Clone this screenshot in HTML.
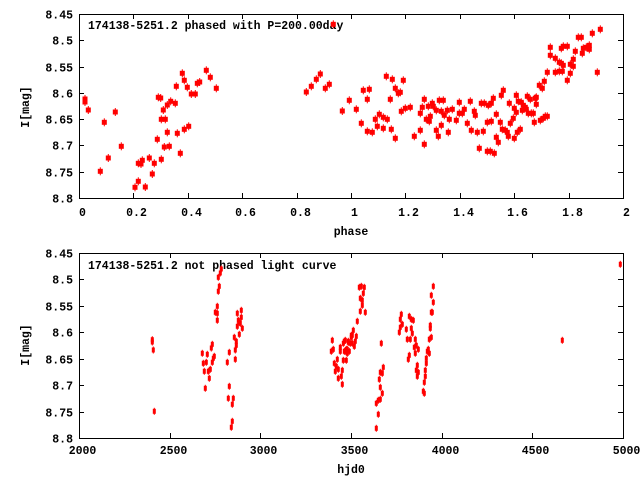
<!DOCTYPE html>
<html><head><meta charset="utf-8"><style>
body{margin:0;background:#fff}
svg{display:block}
text{font-family:"Liberation Mono",monospace;font-size:11.5px;font-weight:bold;fill:#000}
</style></head><body>
<svg id="s" width="640" height="480" xmlns="http://www.w3.org/2000/svg">
<rect width="640" height="480" fill="#fff"/>
<text x="88" y="29">174138-5251.2 phased with P=200.00day</text>
<text x="88" y="269">174138-5251.2 not phased light curve</text>
<text x="351" y="235" text-anchor="middle">phase</text>
<text x="351" y="473" text-anchor="middle">hjd0</text>
<text transform="translate(29,107) rotate(-90)" text-anchor="middle">I[mag]</text>
<text transform="translate(29,345) rotate(-90)" text-anchor="middle">I[mag]</text>
</svg>
<script>
var s=document.getElementById('s'),NS='http://www.w3.org/2000/svg';
function el(n,a,t){var e=document.createElementNS(NS,n);for(var k in a)e.setAttribute(k,a[k]);if(t!==undefined)e.textContent=t;s.appendChild(e);return e;}
var L=79,R=623;
function frame(T,B,xl,xt){
 el('rect',{x:L+.5,y:T+.5,width:R-L,height:B-T,fill:'none',stroke:'#000','stroke-width':1});
 var yl=['8.45','8.5','8.55','8.6','8.65','8.7','8.75','8.8'];
 for(var i=0;i<8;i++){var y=Math.round(T+(B-T)*i/7)+.5;
  el('line',{x1:L,x2:L+5,y1:y,y2:y,stroke:'#000'});el('line',{x1:R-5,x2:R,y1:y,y2:y,stroke:'#000'});
  el('text',{x:73,y:y+4,'text-anchor':'end'},yl[i]);}
 var n=xl.length;
 for(var i=0;i<n;i++){var x=Math.round(L+(R-L)*i/(n-1))+.5;
  el('line',{x1:x,x2:x,y1:B-5,y2:B,stroke:'#000'});el('line',{x1:x,x2:x,y1:T,y2:T+5,stroke:'#000'});
  el('text',{x:x+3,y:xt,'text-anchor':'middle'},xl[i]);}
}
frame(14,198,['0','0.2','0.4','0.6','0.8','1','1.2','1.4','1.6','1.8','2'],216);
frame(253,438,['2000','2500','3000','3500','4000','4500','5000'],454);
var A=[85,99,85,102,88.3,110,104.3,122.3,108.3,158,100.3,171.3,115.3,112,121.3,146.3,135,187.3,138.3,181.3,145.3,187,138.3,163.3,141,164,142.3,160.3,149.3,158,152.3,174,154.3,163.3,157.3,139.3,158.3,97.3,160.7,98,161.3,159.3,161.3,119.3,165.3,119.3,163.3,110,164.3,147,167.3,105,167.3,132.3,169.3,146.3,170.7,101.3,175.3,103.3,176.3,86.3,177.3,133.3,180.3,153.3,182.3,73.3,184.3,80.3,184.3,129.3,187.3,87.3,188.7,126.3,191.3,94,195.3,94,197.3,83.3,199.7,82,206.3,70.3,210.3,77.3,216.3,88.3,333.3,24.3,306.3,92,311.3,86.3,316.3,79.3,320.3,74,325.3,88.3,329.3,84.3,342.3,111,349.3,100.3,
356.3,109.3,361.3,123.3,363.3,90.3,367.3,99.3,367.3,131.3,369.3,89.3,372.3,132.3,375.3,119.3,377.3,126.3,379.3,114.3,383.3,117.3,383.3,128.3,386.3,76.3,387.3,119.3,390.3,99.3,391.3,129.3,392.3,79.3,395.3,138.3,395.3,88.3,398.3,93.3,400.3,92.3,401.3,111.3,403.3,80.3,405.3,108.3,410.3,107.3,414.3,136.3,420.3,130.3,420.3,113.3,422.3,107.3,424.3,99.3,424.3,144.3,426.3,119.3,428.3,106.3,429.3,121.3,430.3,116.3,432.3,103.3,433.3,106.3,436.3,110.3,436.3,130.3,438.3,136.3,439.3,100.3,441.3,125.3,441.3,111.3,443.3,100.3,444.3,115.3,447.3,110.3,448.3,132.3,449.3,119.3,452.3,109.3,456.3,120.3,459.3,102.3,459.3,113.3,462.3,113.3,464.3,109.3,467.3,123.3,470.3,101.3,471.3,130.3,474.3,111.3,475.3,115.3,477.3,132.3,479.3,148.3,481.3,103.3,483.3,131.3,484.3,103.3,487.3,122.3,487.3,151.3,488.3,105.3,490.3,151.3,491.3,121.3,491.3,103.3,493.3,98.3,494.3,153.3,496.3,114.3,496.3,137.3,498.3,142.3,500.3,122.3,501.3,95.3,502.3,129.3,503.3,90.3,505.3,130.3,507.3,132.3,508.3,136.3,509.3,103.3,510.3,123.3,513.3,118.3,514.3,108.3,514.3,138.3,516.3,95.3,516.3,112.3,517.3,132.3,518.3,101.3,520.3,129.3,521.3,102.3,522.3,110.3,523.3,105.3,525.3,107.3,526.3,109.3,527.3,96.3,528.3,113.3,530.3,99.3,531.3,113.3,533.3,113.3,534.3,122.3,535.3,98.3,536.3,104.3,536.3,97.3,539.3,85.3,540.3,120.3,542.3,88.3,543.3,118.3,544.3,81.3,545.3,116.3,547.3,72.3,547.3,116.3,550.3,47.3,550.3,55.3,555.3,58.3,555.3,72.3,559.3,62.3,559.3,71.3,561.3,48.3,561.3,63.3,562.3,71.3,563.3,46.3,563.3,65.3,567.3,46.3,567.3,80.3,570.3,73.3,570.3,64.3,573.3,59.3,573.3,66.3,575.3,51.3,578.3,37.3,581.3,37.3,582.3,53.3,583.3,48.3,586.3,47.3,589.3,49.3,589.3,45.3,592.3,33.3,597.3,72.3,600.3,29.3];
for(var i=0;i<A.length;i+=2){el('rect',{x:A[i]-2.5,y:A[i+1]-2.5,width:5,height:5,fill:'#f00'});el('rect',{x:A[i]-0.5,y:A[i+1]-4,width:1,height:8,fill:'#f00'});}
var B=[152.3,339.7,152.3,342,153.3,350,154.3,411.3,202.3,353.3,203.3,363.3,204.3,371.3,205.3,388.3,206.3,362.3,207.3,354.3,208.3,371.3,209.3,378.3,210.3,369.3,211.3,348,212.3,344.3,212.3,362.3,213.3,358.3,214.3,356.3,215.3,312.3,217.3,306.3,217.3,320.3,218.3,291.3,218.3,277.3,219.3,286.3,220.3,273,221.3,269,217.3,313.3,227.3,362.3,228.3,398.3,229.3,352.3,229.3,386.3,231.3,427.3,232.3,421.3,232.3,404.3,233.3,398.3,234.3,337.3,235.3,359.3,235.3,350,236.3,341.3,236.3,345.3,237.3,326.3,237.3,313.3,238.3,320.3,239.3,334.3,239.3,322.3,240.3,323.3,241.3,317.3,241.3,310.3,242.3,328.3,
331.3,351.3,332.3,340.3,333.3,349.3,334.3,363.3,335.3,371.3,336.3,366.3,337.3,359.3,338.3,369.3,338.3,378.3,340.3,351.3,340.3,347.3,341.3,376.3,342.3,384.3,342.3,370.3,343.3,343.3,343.3,360.3,344.3,351.3,345.3,340.3,346.3,349.3,347.3,353.3,348.3,341.3,349.3,351.3,351.3,335.3,352.3,343.3,353.3,330.3,
344.3,341.3,345.3,351.3,346.3,360.3,347.3,349.3,348.3,342.3,350.3,343.3,351.3,337.3,352.3,335.3,354.3,346.3,355.3,341.3,356.3,336.3,357.3,321.3,359.3,287.3,360.3,311.3,360.3,298.3,361.3,286.3,362.3,305.3,362.3,300.3,363.3,293.3,364.3,287.3,365.3,312.3,
376.3,428.3,376.3,403.3,378.3,414.3,378.3,400.3,379.3,379.3,380.3,399.3,380.3,387.3,380.3,372.3,381.3,343.3,382.3,393.3,382.3,373.3,383.3,367.3,
399.3,332.3,400.3,319.3,400.3,327.3,401.3,314.3,402.3,324.3,406.3,329.3,407.3,339.3,408.3,359.3,409.3,316.3,409.3,355.3,410.3,339.3,411.3,328.3,411.3,319.3,412.3,333.3,413.3,320.3,414.3,347.3,415.3,339.3,415.3,353.3,416.3,345.3,416.3,370.3,417.3,376.3,417.3,365.3,418.3,349.3,418.3,372.3,423.3,391.3,424.3,382.3,424.3,393.3,425.3,370.3,425.3,376.3,426.3,358.3,426.3,363.3,427.3,351.3,428.3,349.3,429.3,353.3,429.3,339.3,430.3,325.3,430.3,328.3,431.3,337.3,431.3,312.3,432.3,312.3,431.3,295.3,433.3,302.3,433.3,286.3,562.3,340.3,620.3,264.3];
for(var i=0;i<B.length;i+=2){el('rect',{x:B[i]-1.5,y:B[i+1]-2.5,width:3,height:5,fill:'#f00'});el('rect',{x:B[i]-0.5,y:B[i+1]-3.5,width:1,height:7,fill:'#f00'});}
</script>
</body></html>
